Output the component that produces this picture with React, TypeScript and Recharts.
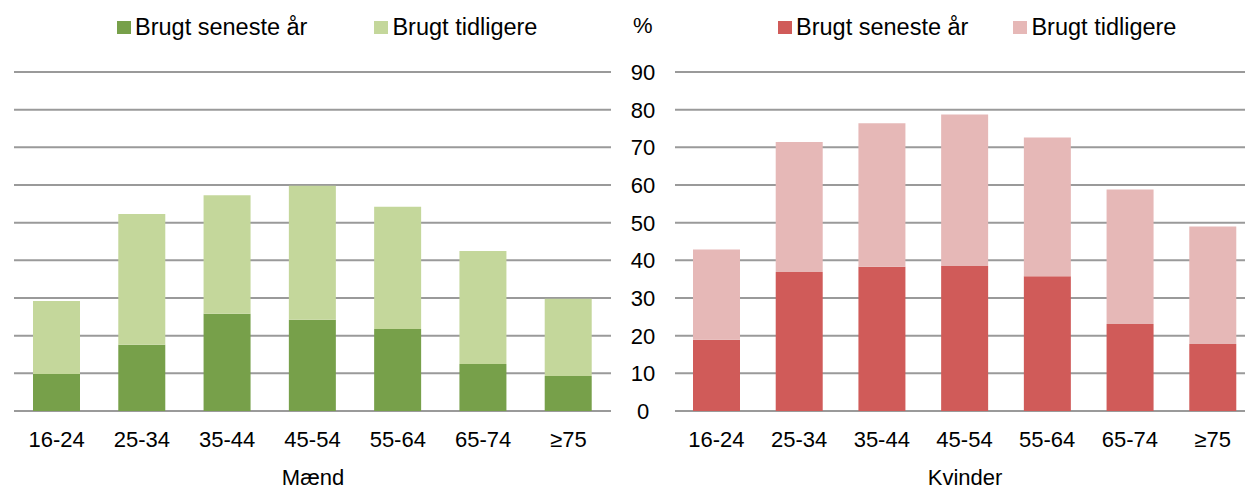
import { BarChart, Bar, XAxis, YAxis, CartesianGrid, Legend } from 'recharts';

const categories = ['16-24', '25-34', '35-44', '45-54', '55-64', '65-74', '≥75'];
const maendSeneste = [9.8, 17.6, 25.8, 24.2, 21.8, 12.5, 9.3];
const maendTidligere = [19.4, 34.7, 31.5, 35.6, 32.4, 30.0, 20.5];
const kvinderSeneste = [18.9, 36.9, 38.3, 38.5, 35.8, 23.1, 17.8];
const kvinderTidligere = [24.0, 34.5, 38.1, 40.2, 36.8, 35.7, 31.2];
const yTicks = [0, 10, 20, 30, 40, 50, 60, 70, 80, 90];

const FONT = '"Liberation Sans", Arial, sans-serif';

const maendData = categories.map((cat, i) => ({
  cat,
  seneste: maendSeneste[i],
  tidligere: maendTidligere[i],
}));

const kvinderData = categories.map((cat, i) => ({
  cat,
  seneste: kvinderSeneste[i],
  tidligere: kvinderTidligere[i],
}));

const XTick = ({ x, payload }: any) => (
  <text x={x} y={447} textAnchor="middle" fontSize={22} fill="#000" fontFamily={FONT}>
    {payload.value}
  </text>
);

const YTick = ({ y, payload }: any) => (
  <text x={43} y={y + 8} textAnchor="middle" fontSize={22} fill="#000" fontFamily={FONT}>
    {payload.value}
  </text>
);

const makeLegend = (left: number, gap: number) => ({ payload }: any) => (
  <div style={{ position: 'absolute', left, top: 0, display: 'flex', fontFamily: FONT, fontSize: 23.5, whiteSpace: 'nowrap' }}>
    {(payload || []).map((item: any, i: number) => (
      <div key={item.value} style={{ display: 'flex', alignItems: 'center', marginLeft: i === 0 ? 0 : gap }}>
        <span style={{ width: 14, height: 13, background: item.color, display: 'inline-block', marginRight: 4 }} />
        <span style={{ color: '#000' }}>{item.value}</span>
      </div>
    ))}
  </div>
);

const App = () => {
  return (
    <div style={{ position: 'fixed', left: 0, top: 0, width: 1245, height: 492, overflow: 'hidden', background: '#fff', fontFamily: FONT }}>
      <div style={{ position: 'absolute', left: 0, top: 0 }}>
        <BarChart width={625} height={492} data={maendData} margin={{ top: 72, right: 14, left: 14, bottom: 31 }} barSize={47}>
          <CartesianGrid vertical={false} stroke="#9a9a9a" strokeWidth={2} />
          <XAxis dataKey="cat" axisLine={false} tickLine={false} height={50} tick={<XTick />} interval={0} />
          <YAxis hide domain={[0, 90]} ticks={yTicks} />
          <Legend verticalAlign="top" content={makeLegend(117, 67)} wrapperStyle={{ top: 14, left: 0 }} />
          <Bar dataKey="seneste" name="Brugt seneste år" stackId="a" fill="#77a04a" isAnimationActive={false} />
          <Bar dataKey="tidligere" name="Brugt tidligere" stackId="a" fill="#c4d79b" isAnimationActive={false} />
        </BarChart>
      </div>
      <div style={{ position: 'absolute', left: 600, top: 0 }}>
        <BarChart width={660} height={492} data={kvinderData} margin={{ top: 72, right: 6, left: 0, bottom: 31 }} barSize={47}>
          <CartesianGrid vertical={false} stroke="#9a9a9a" strokeWidth={2} />
          <XAxis dataKey="cat" axisLine={false} tickLine={false} height={50} tick={<XTick />} interval={0} />
          <YAxis width={75} domain={[0, 90]} ticks={yTicks} axisLine={false} tickLine={false} tick={<YTick />} />
          <Legend verticalAlign="top" content={makeLegend(178, 45)} wrapperStyle={{ top: 14, left: 0 }} />
          <Bar dataKey="seneste" name="Brugt seneste år" stackId="a" fill="#d05b59" isAnimationActive={false} />
          <Bar dataKey="tidligere" name="Brugt tidligere" stackId="a" fill="#e6b8b7" isAnimationActive={false} />
        </BarChart>
      </div>
      <div style={{ position: 'absolute', left: 633, top: 13, fontSize: 22, color: '#000' }}>%</div>
      <div style={{ position: 'absolute', left: 263, top: 469, width: 100, textAlign: 'center', fontSize: 22, lineHeight: '18px', color: '#000' }}>Mænd</div>
      <div style={{ position: 'absolute', left: 915, top: 469, width: 100, textAlign: 'center', fontSize: 22, lineHeight: '18px', color: '#000' }}>Kvinder</div>
    </div>
  );
};

export default App;
